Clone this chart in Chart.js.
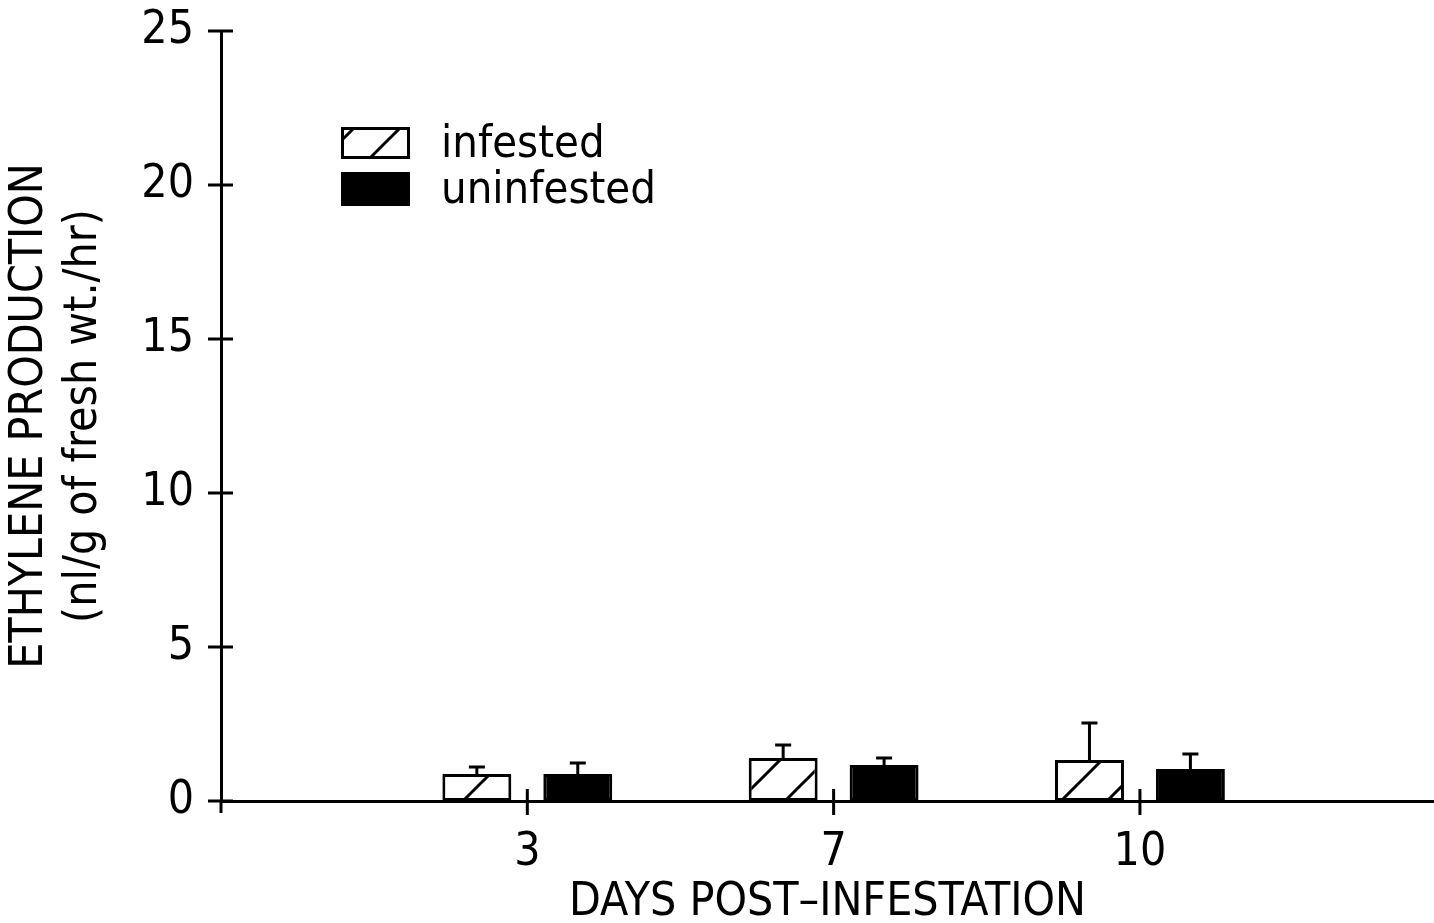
<!DOCTYPE html>
<html>
<head>
<meta charset="utf-8">
<script src="https://cdn.jsdelivr.net/npm/chart.js@4/dist/chart.umd.min.js"></script>
<style>
  html, body { margin: 0; padding: 0; background: #fff; }
</style>
</head>
<body>
<canvas id="ethyleneChart" width="1434" height="923"></canvas>
<script>
// days after infestation and ethylene values (nl/g fresh wt./hr)
const days = ['3', '7', '10'];
const infested = [0.88, 1.40, 1.33];
const infestedErr = [0.22, 0.42, 1.20];
const uninfested = [0.88, 1.17, 1.04];
const uninfestedErr = [0.35, 0.23, 0.49];
const yTicks = [0, 5, 10, 15, 20, 25];

const FONT = "'DejaVu Sans Condensed', 'DejaVu Sans', sans-serif";
Chart.defaults.font.family = FONT;
Chart.defaults.color = '#000';

// diagonal hatch used for the infested bars
function makeHatch() {
  const p = 46;
  const c = document.createElement('canvas');
  c.width = p; c.height = p;
  const g = c.getContext('2d');
  g.fillStyle = '#fff';
  g.fillRect(0, 0, p, p);
  g.strokeStyle = '#000';
  g.lineWidth = 3;
  g.beginPath();
  g.moveTo(-2, p + 2); g.lineTo(p + 2, -2);
  g.moveTo(-2, 2); g.lineTo(2, -2);
  g.moveTo(p - 2, p + 2); g.lineTo(p + 2, p - 2);
  g.stroke();
  const pat = document.getElementById('ethyleneChart').getContext('2d').createPattern(c, 'repeat');
  pat.setTransform(new DOMMatrix().translate(22, 0));
  return pat;
}
const hatch = makeHatch();

// error bars on top of each bar
const errorBars = {
  id: 'errorBars',
  afterDatasetsDraw(chart) {
    const { ctx, scales: { y } } = chart;
    ctx.save();
    ctx.strokeStyle = '#000';
    ctx.lineWidth = 3;
    chart.data.datasets.forEach((ds, di) => {
      chart.getDatasetMeta(di).data.forEach((bar, i) => {
        const top = y.getPixelForValue(ds.data[i].y + ds.errors[i]);
        ctx.beginPath();
        ctx.moveTo(bar.x, bar.y);
        ctx.lineTo(bar.x, top);
        ctx.moveTo(bar.x - 8, top);
        ctx.lineTo(bar.x + 8, top);
        ctx.stroke();
      });
    });
    ctx.restore();
  }
};

// tick marks that cross the axes
const crossTicks = {
  id: 'crossTicks',
  afterDraw(chart) {
    const { ctx, scales: { x, y } } = chart;
    ctx.save();
    ctx.strokeStyle = '#000';
    ctx.lineWidth = 3;
    ctx.beginPath();
    y.ticks.forEach(t => {
      const py = y.getPixelForValue(t.value);
      ctx.moveTo(x.left - 13, py);
      ctx.lineTo(x.left + 12, py);
    });
    x.ticks.forEach(t => {
      const px = x.getPixelForValue(t.value);
      ctx.moveTo(px, y.bottom - 12);
      ctx.lineTo(px, y.bottom + 14);
    });
    ctx.moveTo(x.left, y.bottom);
    ctx.lineTo(x.left, y.bottom + 12);
    ctx.stroke();
    ctx.restore();
  }
};

// legend in the upper left of the plot
const boxLegend = {
  id: 'boxLegend',
  afterDraw(chart) {
    const { ctx } = chart;
    const rows = [{ top: 127, h: 32, base: 157 }, { top: 172, h: 34, base: 203 }];
    ctx.save();
    chart.data.datasets.forEach((ds, i) => {
      const r = rows[i];
      ctx.fillStyle = ds.backgroundColor;
      ctx.fillRect(341, r.top, 69, r.h);
      ctx.strokeStyle = '#000';
      ctx.lineWidth = 3;
      ctx.strokeRect(342.5, r.top + 1.5, 66, r.h - 3);
      ctx.fillStyle = '#000';
      ctx.font = '45px ' + FONT;
      ctx.textBaseline = 'alphabetic';
      ctx.fillText(ds.label, 441, r.base);
    });
    ctx.restore();
  }
};

new Chart(document.getElementById('ethyleneChart'), {
  type: 'bar',
  data: {
    datasets: [{
      label: 'infested',
      data: infested.map((v, i) => ({ x: i + 1, y: v })),
      errors: infestedErr,
      backgroundColor: hatch,
      borderColor: '#000',
      borderWidth: 3,
      borderSkipped: false
    }, {
      label: 'uninfested',
      data: uninfested.map((v, i) => ({ x: i + 1, y: v })),
      errors: uninfestedErr,
      backgroundColor: '#000',
      borderColor: '#000',
      borderWidth: 3,
      borderSkipped: false
    }]
  },
  options: {
    responsive: false,
    devicePixelRatio: 1,
    animation: false,
    layout: { padding: { top: 31, right: 0, left: 0, bottom: 0 } },
    datasets: { bar: { categoryPercentage: 0.659, barPercentage: 0.683 } },
    plugins: { legend: { display: false }, tooltip: { enabled: false } },
    scales: {
      x: {
        type: 'linear',
        min: 0,
        max: 3.96,
        offset: false,
        afterBuildTicks: s => { s.ticks = days.map((d, i) => ({ value: i + 1 })); },
        afterFit: s => { s.height = 122; s.paddingLeft = 0; s.paddingRight = 0; },
        ticks: {
          callback: (v, i) => days[i],
          padding: 16,
          font: { size: 46 }
        },
        grid: { display: false },
        border: { display: true, color: '#000', width: 3 },
        title: {
          display: true,
          text: 'DAYS POST\u2013INFESTATION',
          font: { size: 46, lineHeight: 0.85 },
          padding: 0
        }
      },
      y: {
        min: 0,
        max: 25,
        afterBuildTicks: s => { s.ticks = yTicks.map(v => ({ value: v })); },
        afterFit: s => { s.width = 221; s.paddingTop = 0; s.paddingBottom = 0; },
        ticks: { padding: 27, font: { size: 46 } },
        grid: { display: false, drawTicks: false },
        border: { display: true, color: '#000', width: 3 },
        title: {
          display: true,
          text: ['ETHYLENE PRODUCTION', '(nl/g of fresh wt./hr)'],
          font: { size: 46, lineHeight: 1.18 },
          padding: { top: 3, bottom: 0 }
        }
      }
    }
  },
  plugins: [errorBars, crossTicks, boxLegend]
});
</script>
</body>
</html>
